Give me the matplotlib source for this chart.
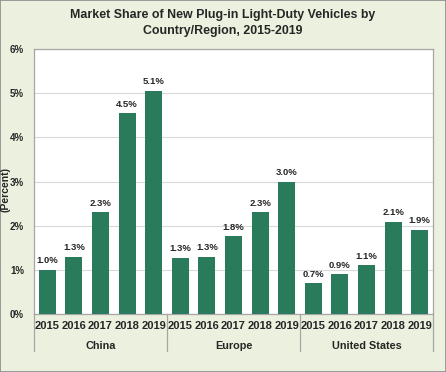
import matplotlib
matplotlib.use("Agg")
import matplotlib.pyplot as plt
from matplotlib.patches import Rectangle
import matplotlib.transforms as mtransforms

plt.rcParams['font.family'] = ['Liberation Sans', 'DejaVu Sans']

groups = ["China", "Europe", "United States"]
years = ["2015", "2016", "2017", "2018", "2019"]
china = [1.0, 1.3, 2.3, 4.54, 5.06]
europe = [1.27, 1.3, 1.76, 2.3, 3.0]
us = [0.7, 0.9, 1.1, 2.09, 1.91]
series = [china, europe, us]

bg = "#ebf1de"
bar_color = "#2a7b5c"
txt = "#262626"

fig = plt.figure(figsize=(4.46, 3.72), dpi=100, facecolor=bg)
fig.patches.append(Rectangle((0, 0), 1, 1, transform=fig.transFigure, fill=False,
                             edgecolor="#8c8c8c", linewidth=1.2))
W, H = 446, 372
ax = fig.add_axes([34 / W, (H - 314) / H, (433 - 34) / W, (314 - 49) / H])
ax.set_facecolor("white")

vals = [v for s in series for v in s]
xs = list(range(len(vals)))
ax.bar(xs, vals, width=0.64, color=bar_color, zorder=3)
for x, v in zip(xs, vals):
    ax.text(x, v + 0.1, f"{v:.1f}%", ha="center", va="bottom", fontsize=6.8,
            fontweight="bold", color=txt, zorder=4)

ax.set_xlim(-0.5, len(vals) - 0.5)
ax.set_ylim(0, 6)
ax.set_yticks(range(0, 7))
ax.set_yticklabels([f"{i}%" for i in range(0, 7)], fontsize=7.0, fontweight="bold", color=txt)
ax.yaxis.grid(True, color="#d9d9d9", linewidth=0.8, zorder=0)
ax.tick_params(axis="y", length=0, pad=7.2)
ax.set_xticks(xs)
ax.set_xticklabels(years * 3, fontsize=8.0, fontweight="bold", color=txt)
ax.tick_params(axis="x", length=0, pad=5)
for sp in ax.spines.values():
    sp.set_color("#a6a6a6")
    sp.set_linewidth(0.9)

trans = mtransforms.blended_transform_factory(ax.transData, ax.transAxes)
for b in [-0.5, 4.5, 9.5, 14.5]:
    ax.plot([b, b], [0, -0.14], transform=trans, color="#a6a6a6", linewidth=0.9, clip_on=False)
for i, g in enumerate(groups):
    ax.text(i * 5 + 2, -0.12, g, transform=trans, ha="center", va="center",
            fontsize=7.8, fontweight="bold", color=txt)

fig.text(0.5, (H - 23) / H, "Market Share of New Plug-in Light-Duty Vehicles by\nCountry/Region, 2015-2019",
         ha="center", va="center", fontsize=8.9, fontweight="bold", color=txt, linespacing=1.35)
fig.text(6 / W, 182 / H, "(Percent)", rotation=90, ha="center", va="center",
         fontsize=7.5, fontweight="bold", color=txt)

fig.savefig("out.png", dpi=100, facecolor=bg)
